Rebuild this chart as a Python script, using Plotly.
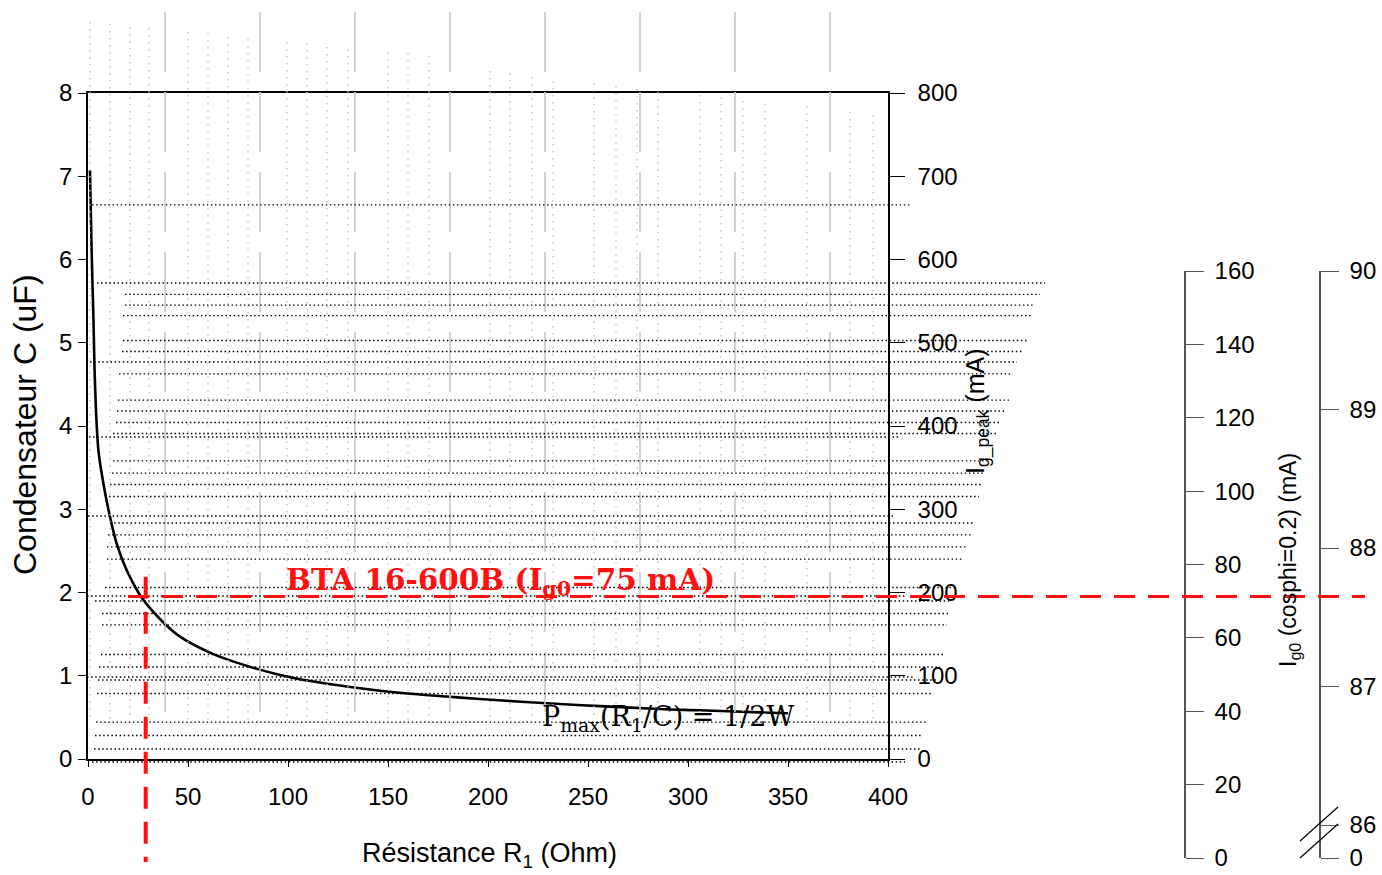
import plotly.graph_objects as go

W, H = 1382, 875

# ---- main curve: capacitor C (uF) vs resistance R1 (Ohm)
R_curve = [1.0, 1.8, 2.7, 3.5, 5.2, 7.7, 11, 14.3, 19.3, 25.2, 29.3, 37.7, 46, 62.7, 79.3,
           96, 112.7, 129.3, 146, 162.7, 179.3, 196, 236, 256, 286, 306, 336, 350]
C_curve = [7.07, 6.11, 5.31, 4.51, 3.71, 3.31, 2.91, 2.59, 2.27, 2.0, 1.86, 1.64, 1.47, 1.26, 1.12,
           1.01, 0.93, 0.87, 0.82, 0.78, 0.75, 0.72, 0.66, 0.635, 0.60, 0.585, 0.56, 0.55]

# ---- operating point (red dashed guides)
R_op = 28.85
C_op = 1.952
red_h_R = [20, 638.5]
red_v_C = [2.19, -1.236]

# ---- tick labels
x_ticks = [0, 50, 100, 150, 200, 250, 300, 350, 400]
y_ticks = [0, 1, 2, 3, 4, 5, 6, 7, 8]
ipeak_ticks = [0, 100, 200, 300, 400, 500, 600, 700, 800]
ig0_ticks = [0, 20, 40, 60, 80, 100, 120, 140, 160]
brk_vals = [85.762, 86, 87, 88, 89, 90]
brk_text = ["0", "86", "87", "88", "89", "90"]

# ---- background dotted horizontal lines (C level, R start, R end)
hdot_C = [6.655, 5.718, 5.580, 5.453, 5.327, 5.027, 4.895, 4.769, 4.625, 4.312, 4.180, 4.042,
          3.910, 3.868, 3.580, 3.435, 3.297, 3.153, 2.919, 2.835, 2.691, 2.547, 2.402, 2.060,
          1.958, 1.898, 1.748, 1.610, 1.255, 1.105, 0.985, 0.949, 0.787, 0.444, 0.282, 0.120, -0.036]
hdot_R0 = [2, 4.5, 18.5, 18.5, 17.5, 17.5, 17, 1, 15.5, 15, 14.5, 14,
           12.5, 0.5, 12.5, 12, 11, 10.5, 0, 11, 10, 9.5, 9.5, 8.5,
           -0.5, 3.5, 7, 7, 6.5, 5.5, -0.5, 5, 4.5, 4, 3.5, 3, 2]
hdot_R1 = [412, 478.5, 476, 473.5, 471.5, 469.5, 467, 464.5, 462.5, 460.5, 458.5, 456,
           454.5, 406, 451, 448.5, 447.5, 445.5, 402.5, 443.5, 441.5, 439.5, 437.5, 434.5,
           408.5, 432, 430, 429.5, 427.5, 426, 412.5, 424.5, 421.5, 419.5, 417.5, 416, 408.5]

# ---- light grey dotted vertical lines (R position, top C level)
vdot_R = [1, 11, 21, 30.5, 50, 60, 70, 80, 99.5, 109.5, 119.5, 130, 150, 160, 170.5, 201, 211,
          222, 232.5, 253, 264, 274.5, 285, 306, 316.5, 327.5, 338.5, 359.5, 381, 392.5]
vdot_top = [8.853, 8.829, 8.793, 8.781, 8.733, 8.721, 8.673, 8.649, 8.613, 8.601, 8.553, 8.529,
            8.492, 8.480, 8.444, 8.264, 8.240, 8.192, 8.144, 8.120, 8.084, 8.048, 8.012, 7.976,
            7.952, 7.904, 7.868, 7.844, 7.772, 7.736]
vdot_bottom = 0.468

# ---- grey long-dash vertical lines
vgrey_R = [38.5, 86, 133.5, 181, 228.5, 276, 323.5, 371]
vgrey_top, vgrey_bottom = 8.973, 0.541

# ---- axis break marks on the 86-90 axis (R, C in overlay units)
brk1_R, brk1_C = [606, 625], [-0.985, -0.576]
brk2_R, brk2_C = [606, 625], [-1.189, -0.781]

# pixel geometry of the original layout
X0, X1 = 88, 888          # main plot area, x
Y0, Y1 = 93, 759          # main plot area, y (top, bottom)
def px(x): return x / W
def py(y): return 1 - y / H

# overlay axis ranges (same scale as main axes, covering whole figure)
sx = (X1 - X0) / 400.0
sy = (Y1 - Y0) / 8.0
ov_xr = [(0 - X0) / sx, (W - X0) / sx]
ov_yr = [(Y1 - H) / sy, (Y1 - 0) / sy]

fig = go.Figure()

# main curve
fig.add_trace(go.Scatter(x=R_curve, y=C_curve, mode="lines", line=dict(color="black", width=2.6, shape="spline", smoothing=1.0),
                         xaxis="x", yaxis="y", showlegend=False, hoverinfo="skip"))
# dummy traces to attach the right-hand axes
fig.add_trace(go.Scatter(x=[None], y=[None], xaxis="x", yaxis="y2", showlegend=False))
fig.add_trace(go.Scatter(x=[None], y=[None], xaxis="x", yaxis="y3", showlegend=False))
fig.add_trace(go.Scatter(x=[None], y=[None], xaxis="x", yaxis="y4", showlegend=False))

# grey dotted verticals
xs, ys = [], []
for r, t in zip(vdot_R, vdot_top):
    xs += [r, r, None]
    ys += [t, vdot_bottom, None]
fig.add_trace(go.Scatter(x=xs, y=ys, mode="lines", line=dict(color="#c4c4c4", width=1.4, dash="1.5px,5.5px"),
                         xaxis="x2", yaxis="y5", showlegend=False, hoverinfo="skip"))
# grey long-dash verticals
xs, ys = [], []
for r in vgrey_R:
    xs += [r, r, None]
    ys += [vgrey_top, vgrey_bottom, None]
fig.add_trace(go.Scatter(x=xs, y=ys, mode="lines", line=dict(color="#c8c8c8", width=1.6, dash="60px,20px"),
                         xaxis="x2", yaxis="y5", showlegend=False, hoverinfo="skip"))
# black dotted horizontals
xs, ys = [], []
for c, r0, r1 in zip(hdot_C, hdot_R0, hdot_R1):
    xs += [r0, r1, None]
    ys += [c, c, None]
fig.add_trace(go.Scatter(x=xs, y=ys, mode="lines", line=dict(color="black", width=1.3, dash="1.5px,2.6px"),
                         xaxis="x2", yaxis="y5", showlegend=False, hoverinfo="skip"))
# red dashed guides
fig.add_trace(go.Scatter(x=red_h_R, y=[C_op, C_op], mode="lines", line=dict(color="#ff1010", width=3, dash="21px,13px"),
                         xaxis="x2", yaxis="y5", showlegend=False, hoverinfo="skip"))
fig.add_trace(go.Scatter(x=[R_op, R_op], y=red_v_C, mode="lines", line=dict(color="#ff1010", width=4, dash="22px,13px"),
                         xaxis="x2", yaxis="y5", showlegend=False, hoverinfo="skip"))
# axis break marks
for bx, by in ((brk1_R, brk1_C), (brk2_R, brk2_C)):
    fig.add_trace(go.Scatter(x=bx, y=by, mode="lines", line=dict(color="black", width=1.2),
                             xaxis="x2", yaxis="y5", showlegend=False, hoverinfo="skip"))

FONT = "Liberation Sans, Arial, sans-serif"
tickfont = dict(family=FONT, size=24, color="black")

fig.update_layout(
    width=W, height=H, margin=dict(l=0, r=0, t=0, b=0),
    paper_bgcolor="white", plot_bgcolor="rgba(0,0,0,0)",
    xaxis=dict(domain=[px(X0), px(X1)], range=[0, 400], tickvals=x_ticks, ticks="outside", ticklen=6,
               tickwidth=1.2, tickcolor="black", showline=True, linecolor="black", linewidth=1.5, mirror=True,
               showgrid=False, zeroline=False, tickfont=tickfont, ticklabelstandoff=9, automargin=False,
               anchor="y"),
    yaxis=dict(domain=[py(Y1), py(Y0)], range=[0, 8], tickvals=y_ticks, ticks="outside", ticklen=8,
               tickwidth=1.2, tickcolor="black", showline=True, linecolor="black", linewidth=1.5,
               showgrid=False, zeroline=False, tickfont=tickfont, ticklabelstandoff=1, automargin=False,
               anchor="x"),
    yaxis2=dict(overlaying="y", side="right", anchor="x", range=[0, 800], tickvals=ipeak_ticks,
                ticks="outside", ticklen=15, tickwidth=1.2, tickcolor="black", showline=True,
                linecolor="black", linewidth=1.5, showgrid=False, zeroline=False, tickfont=tickfont,
                ticklabelstandoff=8, automargin=False),
    yaxis3=dict(anchor="free", position=px(1185), side="right", domain=[py(858), py(271)], range=[0, 160],
                tickvals=ig0_ticks, ticks="outside", ticklen=18, tickwidth=1.4, tickcolor="#555555",
                showline=True, linecolor="#555555", linewidth=1.6, showgrid=False, zeroline=False,
                tickfont=tickfont, ticklabelstandoff=6, automargin=False),
    yaxis4=dict(anchor="free", position=px(1320), side="right", domain=[py(858), py(271)],
                range=[brk_vals[0], brk_vals[-1]], tickvals=brk_vals, ticktext=brk_text, ticks="outside",
                ticklen=18, tickwidth=1.4, tickcolor="#555555", showline=True, linecolor="#555555",
                linewidth=1.6, showgrid=False, zeroline=False, tickfont=tickfont, ticklabelstandoff=6,
                automargin=False),
    xaxis2=dict(domain=[0, 1], range=ov_xr, visible=False, anchor="y5"),
    yaxis5=dict(domain=[0, 1], range=ov_yr, visible=False, anchor="x2"),
)

SERIF = "DejaVu Serif, Liberation Serif, serif"
ann = []
ann.append(dict(text="Condensateur C (uF)", x=px(25), y=py(425), xref="paper", yref="paper", showarrow=False,
                textangle=-90, font=dict(family=FONT, size=32, color="black"), xanchor="center", yanchor="middle"))
ann.append(dict(text="Résistance R<sub>1</sub> (Ohm)", x=px(489), y=py(855), xref="paper", yref="paper",
                showarrow=False, font=dict(family=FONT, size=27, color="black"), xanchor="center", yanchor="middle"))
ann.append(dict(text="I<sub>g_peak</sub> (mA)", x=px(977), y=py(412), xref="paper", yref="paper", showarrow=False,
                textangle=-90, font=dict(family=FONT, size=25, color="black"), xanchor="center", yanchor="middle"))
ann.append(dict(text="I<sub>g0</sub> (cosphi=0.2) (mA)", x=px(1289), y=py(560), xref="paper", yref="paper",
                showarrow=False, textangle=-90, font=dict(family=FONT, size=23, color="black"),
                xanchor="center", yanchor="middle"))
ann.append(dict(text="<b>BTA 16-600B (I<sub>g0</sub>=75 mA)</b>", x=206, y=2.13, xref="x", yref="y",
                showarrow=False, font=dict(family=SERIF, size=29.5, color="#ff1010"),
                xanchor="center", yanchor="middle"))
ann.append(dict(text="P<sub>max</sub>(R<sub>1</sub>/C) = 1/2W", x=290, y=0.49, xref="x", yref="y",
                showarrow=False, font=dict(family=SERIF, size=27, color="black"),
                xanchor="center", yanchor="middle"))
fig.update_layout(annotations=ann)

fig.write_html("out.html", config={"displayModeBar": False},
               post_script="document.body.style.margin='0px';document.body.style.overflow='hidden';")
